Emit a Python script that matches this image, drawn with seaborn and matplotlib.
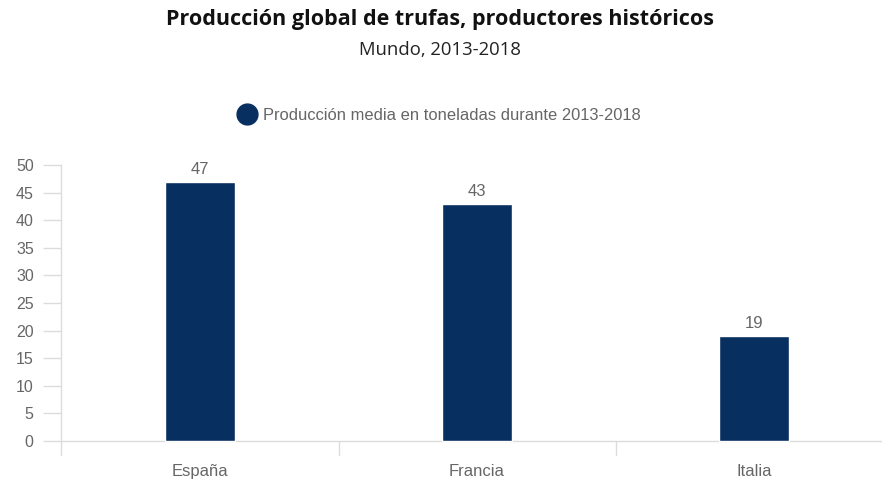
import matplotlib
matplotlib.use("Agg")
import matplotlib.pyplot as plt
from matplotlib.lines import Line2D
import seaborn as sns
import pandas as pd

# Average truffle production (tonnes), 2013-2018
paises = ["España", "Francia", "Italia"]
produccion = [47, 43, 19]
yticks = [0, 5, 10, 15, 20, 25, 30, 35, 40, 45, 50]

titulo = "Producción global de trufas, productores históricos"
subtitulo = "Mundo, 2013-2018"
leyenda = "Producción media en toneladas durante 2013-2018"

bar_color = "#072f5f"
text_grey = "#666666"
line_grey = "#dcdcdc"

sns.set_theme(style="white")
plt.rcParams["font.family"] = ["Liberation Sans", "DejaVu Sans"]

df = pd.DataFrame({"pais": paises, "produccion": produccion})

W, H = 882, 479
fig = plt.figure(figsize=(W / 100, H / 100), dpi=100)
ax_left, ax_right = 61.5, 882
ax_top, ax_bottom = 165, 455
ax = fig.add_axes([ax_left / W, 1 - ax_bottom / H,
                   (ax_right - ax_left) / W, (ax_bottom - ax_top) / H])

sns.barplot(data=df, x="pais", y="produccion", color=bar_color,
            width=0.25, saturation=1, ax=ax)

ax.set_xlim(-0.5, -0.5 + (ax_right - ax_left) / 277)
ax.set_ylim(-(ax_bottom - 441) / 5.52, 50)

# value labels above the bars
for i, v in enumerate(produccion):
    ax.annotate(str(v), (i, v), xytext=(0, 3.5), textcoords="offset points",
                ha="center", va="bottom", fontsize=12, color=text_grey)

# baseline and category separators
ax.axhline(0, color=line_grey, lw=1, zorder=0)
for sep in [0.5, 1.5]:
    ax.plot([sep, sep], [0, ax.get_ylim()[0]], color=line_grey, lw=1,
            clip_on=False, zorder=0)

for s in ["top", "right", "bottom"]:
    ax.spines[s].set_visible(False)
ax.spines["left"].set_color(line_grey)
ax.spines["left"].set_linewidth(1)

ax.set_yticks(yticks)
ax.set_yticklabels([str(t) for t in yticks])
ax.tick_params(axis="y", length=13, width=1, color=line_grey, pad=7,
               labelsize=11.5, labelcolor=text_grey, left=True)
ax.tick_params(axis="x", length=0, pad=6.5, labelsize=12, labelcolor=text_grey)
ax.set_xlabel("")
ax.set_ylabel("")

fig.text(440 / W, 1 - 20 / H, titulo, ha="center", va="center",
         fontsize=15.5, fontweight="bold", color="#111111",
         family=["Open Sans", "DejaVu Sans"])
fig.text(440 / W, 1 - 50 / H, subtitulo, ha="center", va="center",
         fontsize=13.3, color="#222222", family=["Open Sans", "DejaVu Sans"])

handle = Line2D([], [], marker="o", linestyle="none", markersize=15,
                markerfacecolor=bar_color, markeredgecolor=bar_color)
fig.legend([handle], [leyenda], loc="center", bbox_to_anchor=(439 / W, 1 - 115 / H),
           frameon=False, fontsize=11.9, labelcolor=text_grey, handletextpad=0.4,
           handlelength=1.2)

fig.savefig("out.png", dpi=100)
